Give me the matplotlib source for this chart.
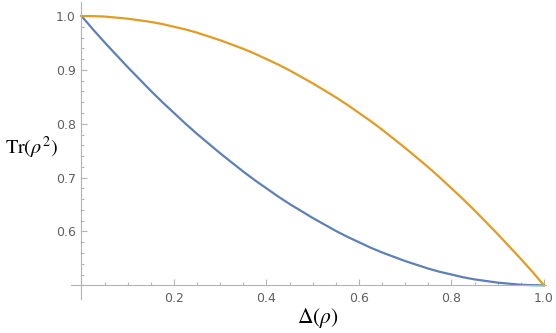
import matplotlib
matplotlib.use('Agg')
import matplotlib.pyplot as plt
import numpy as np

# values
delta = [0.0, 0.025, 0.05, 0.075, 0.1, 0.125, 0.15, 0.175, 0.2, 0.225, 0.25,
         0.275, 0.3, 0.325, 0.35, 0.375, 0.4, 0.425, 0.45, 0.475, 0.5,
         0.525, 0.55, 0.575, 0.6, 0.625, 0.65, 0.675, 0.7, 0.725, 0.75,
         0.775, 0.8, 0.825, 0.85, 0.875, 0.9, 0.925, 0.95, 0.975, 1.0]
purity_blue = [1.0, 0.975, 0.951, 0.928, 0.905, 0.883, 0.861, 0.840, 0.82, 0.800, 0.781,
               0.763, 0.745, 0.728, 0.711, 0.695, 0.68, 0.665, 0.651, 0.638, 0.625,
               0.613, 0.601, 0.590, 0.58, 0.570, 0.561, 0.553, 0.545, 0.538, 0.531,
               0.525, 0.52, 0.515, 0.511, 0.508, 0.505, 0.503, 0.501, 0.5003, 0.5]
purity_orange = [1.0, 0.9997, 0.999, 0.997, 0.995, 0.992, 0.989, 0.985, 0.98, 0.975, 0.969,
                 0.962, 0.955, 0.947, 0.939, 0.930, 0.92, 0.910, 0.899, 0.887, 0.875,
                 0.862, 0.849, 0.835, 0.82, 0.805, 0.789, 0.772, 0.755, 0.737, 0.719,
                 0.700, 0.68, 0.660, 0.639, 0.617, 0.595, 0.572, 0.549, 0.525, 0.5]
xticks = [0.2, 0.4, 0.6, 0.8, 1.0]
yticks = [0.6, 0.7, 0.8, 0.9, 1.0]

plt.rcParams['mathtext.fontset'] = 'stix'
axis_col = '#b4b4b4'

fig = plt.figure(figsize=(5.56, 3.33), dpi=100)
ax = fig.add_axes([71/556, 34/333, 475.3/556, 297/333])

ax.plot(delta, purity_blue, color='#5E81B5', lw=1.6, clip_on=False)
ax.plot(delta, purity_orange, color='#E19C24', lw=1.6, clip_on=False)

ax.set_xlim(-0.0227, 1.005)
ax.set_ylim(0.4746, 1.026)

for s in ['top', 'right']:
    ax.spines[s].set_visible(False)
ax.spines['left'].set_position(('data', 0))
ax.spines['bottom'].set_position(('data', 0.5))
for s in ['left', 'bottom']:
    ax.spines[s].set_color(axis_col)
    ax.spines[s].set_linewidth(0.8)

ax.set_xticks(xticks)
ax.set_xticklabels(['%.1f' % v for v in xticks])
ax.set_xticks(np.arange(0, 1.001, 0.05), minor=True)
ax.set_yticks(yticks)
ax.set_yticklabels(['%.1f' % v for v in yticks])
ax.set_yticks(np.arange(0.5, 1.001, 0.02), minor=True)

ax.tick_params(which='both', direction='in', color=axis_col, width=0.8,
               labelcolor='#606060', labelsize=9)
ax.tick_params(which='major', length=4)
ax.tick_params(which='minor', length=2.2)
ax.tick_params(axis='x', which='major', pad=5)
ax.tick_params(axis='y', which='major', pad=4)

fig.text(5/556, 1 - 148/333, r'$\mathrm{Tr}(\rho^2)$', fontsize=14.5,
         ha='left', va='center')
fig.text(318/556, 1 - 318/333, r'$\Delta(\rho)$', fontsize=15.5,
         ha='center', va='center')

fig.savefig('out.png', dpi=100)
